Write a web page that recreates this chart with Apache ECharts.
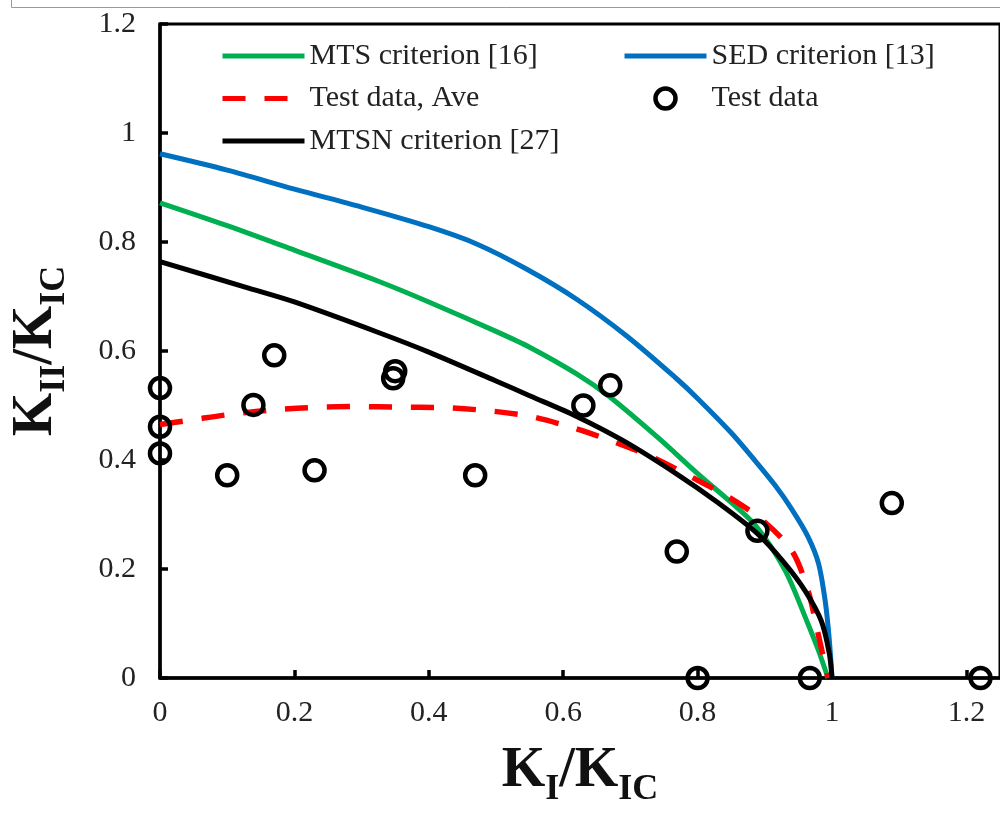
<!DOCTYPE html>
<html>
<head>
<meta charset="utf-8">
<script src="https://cdn.jsdelivr.net/npm/echarts@6/dist/echarts.min.js"></script>
<style>
  html, body { margin: 0; padding: 0; background: #fff; }
  #chart { width: 1000px; height: 813px; }
</style>
</head>
<body>
<div id="chart"></div>
<script>
// [K_I/K_IC, K_II/K_IC] pairs
const mtsData = [
  [0, 0.872], [0.1, 0.83], [0.2, 0.785], [0.325, 0.728], [0.4, 0.69], [0.5, 0.636],
  [0.55, 0.607], [0.62, 0.558], [0.669, 0.516], [0.742, 0.44], [0.8, 0.375], [0.85, 0.322],
  [0.886, 0.28], [0.93, 0.198], [0.964, 0.1], [0.98, 0.05], [0.994, 0]
];
const sedData = [
  [0, 0.962], [0.1, 0.932], [0.2, 0.897], [0.3, 0.864], [0.4, 0.828], [0.472, 0.796],
  [0.546, 0.75], [0.62, 0.695], [0.694, 0.628], [0.768, 0.55], [0.8, 0.513], [0.85, 0.45],
  [0.886, 0.398], [0.915, 0.354], [0.94, 0.31], [0.964, 0.26], [0.98, 0.21],
  [0.99, 0.14], [0.996, 0.07], [1.0, 0]
];
const aveData = [
  [0, 0.465], [0.05, 0.474], [0.1, 0.483], [0.167, 0.492], [0.24, 0.497], [0.3, 0.498],
  [0.349, 0.497], [0.423, 0.496], [0.492, 0.49], [0.551, 0.48], [0.615, 0.459],
  [0.674, 0.434], [0.733, 0.405], [0.792, 0.368], [0.846, 0.332], [0.896, 0.29],
  [0.94, 0.234], [0.964, 0.162], [0.979, 0.083], [0.994, 0]
];
const mtsnData = [
  [0, 0.764], [0.133, 0.715], [0.2, 0.69], [0.325, 0.634], [0.4, 0.598], [0.5, 0.545],
  [0.55, 0.518], [0.62, 0.48], [0.69, 0.435], [0.768, 0.375], [0.83, 0.322], [0.889, 0.265],
  [0.93, 0.21], [0.96, 0.16], [0.984, 0.105], [0.996, 0.045], [1.0, 0]
];
const testData = [
  [0, 0.532], [0, 0.461], [0, 0.412], [0.1, 0.372], [0.139, 0.501], [0.17, 0.592],
  [0.23, 0.381], [0.347, 0.55], [0.35, 0.563], [0.469, 0.372], [0.63, 0.5],
  [0.67, 0.537], [0.769, 0.232], [0.889, 0.27], [1.089, 0.321], [0.8, 0],
  [0.967, 0], [1.221, 0]
];
const seriesNames = ['MTS criterion [16]', 'SED criterion [13]', 'Test data, Ave', 'Test data', 'MTSN criterion [27]'];
const xRange = [0, 1.25];
const yRange = [0, 1.2];
const tickStep = 0.2;

const serif = 'Liberation Serif';
const chart = echarts.init(document.getElementById('chart'));

const titleRich = {
  a: { fontFamily: serif, fontWeight: 'bold', fontSize: 56, lineHeight: 60, color: '#111' },
  s: { fontFamily: serif, fontWeight: 'bold', fontSize: 36, padding: [36, 0, 0, 0], color: '#111' }
};

const legendText = { fontFamily: serif, fontSize: 30, color: '#222', lineHeight: 30 };
// line series draw a dot in their legend icon; hide it, keep the thick line
const legendBase = {
  orient: 'vertical', top: 41, padding: 0,
  itemWidth: 82, itemHeight: 20, itemGap: 12.5,
  textStyle: legendText,
  itemStyle: { opacity: 0 },
  lineStyle: { width: 5 }
};

chart.setOption({
  animation: false,
  backgroundColor: '#fff',
  graphic: [{
    type: 'rect',
    shape: { x: 11.5, y: -10, width: 1000, height: 17.5 },
    style: { fill: 'none', stroke: '#999', lineWidth: 1 }
  }],
  grid: {
    left: 160, top: 24, right: -7, bottom: 127,
    show: true, borderColor: '#000', borderWidth: 3
  },
  legend: [
    Object.assign({}, legendBase, {
      left: 220,
      data: [seriesNames[0], seriesNames[2], seriesNames[4]]
    }),
    Object.assign({}, legendBase, {
      left: 622,
      data: [
        seriesNames[1],
        { name: seriesNames[3], itemStyle: { opacity: 1, color: 'transparent', borderColor: '#000', borderWidth: 4.5 } }
      ]
    })
  ],
  xAxis: {
    type: 'value', min: xRange[0], max: xRange[1], interval: tickStep,
    name: '{a|K}{s|I}{a|/K}{s|IC}', nameLocation: 'middle', nameGap: 58,
    nameTextStyle: { rich: titleRich },
    axisLine: { show: true, lineStyle: { color: '#000', width: 3.5 } },
    axisTick: { show: true, inside: true, length: 8, lineStyle: { color: '#000', width: 3.5 } },
    axisLabel: { fontFamily: serif, fontSize: 30, color: '#222', margin: 20, showMaxLabel: false },
    splitLine: { show: false }
  },
  yAxis: {
    type: 'value', min: yRange[0], max: yRange[1], interval: tickStep,
    name: '{a|K}{s|II}{a|/K}{s|IC}', nameLocation: 'middle', nameGap: 87,
    nameTextStyle: { rich: titleRich },
    axisLine: { show: true, lineStyle: { color: '#000', width: 3.5 } },
    axisTick: { show: true, inside: true, length: 8, lineStyle: { color: '#000', width: 3.5 } },
    axisLabel: { fontFamily: serif, fontSize: 30, color: '#222', margin: 24 },
    splitLine: { show: false }
  },
  series: [
    {
      name: seriesNames[3], type: 'scatter', data: testData,
      symbol: 'circle', symbolSize: 20, z: 5,
      itemStyle: { color: 'transparent', borderColor: '#000', borderWidth: 4.5, opacity: 1 }
    },
    {
      name: seriesNames[0], type: 'line', data: mtsData, symbol: 'none', smooth: 0.3,
      lineStyle: { color: '#00b050', width: 5 }, itemStyle: { color: '#00b050' }
    },
    {
      name: seriesNames[1], type: 'line', data: sedData, symbol: 'none', smooth: 0.3,
      lineStyle: { color: '#0070c0', width: 5 }, itemStyle: { color: '#0070c0' }
    },
    {
      name: seriesNames[2], type: 'line', data: aveData, symbol: 'none', smooth: 0.3,
      lineStyle: { color: '#ff0000', width: 5.5, type: [23, 19] }, itemStyle: { color: '#ff0000' }
    },
    {
      name: seriesNames[4], type: 'line', data: mtsnData, symbol: 'none', smooth: 0.3,
      lineStyle: { color: '#000', width: 5 }, itemStyle: { color: '#000' }
    }
  ]
});
</script>
</body>
</html>
